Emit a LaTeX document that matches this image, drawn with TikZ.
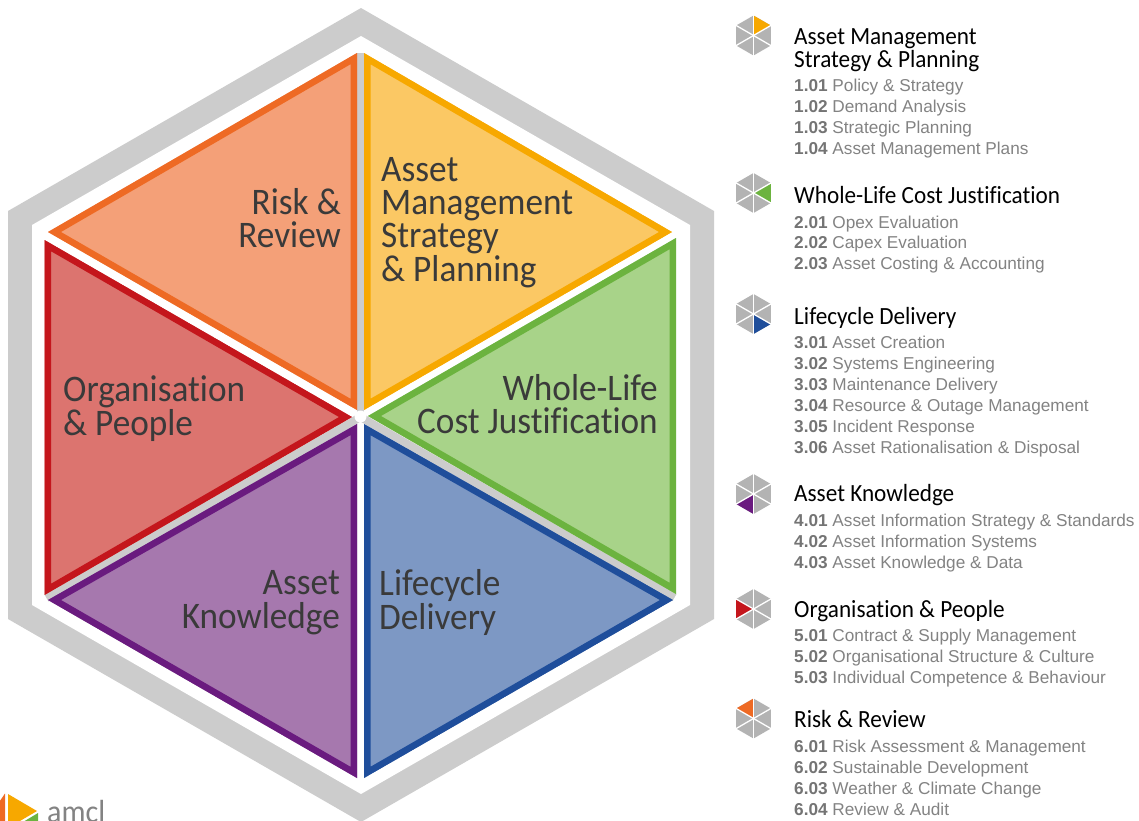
\documentclass[tikz,border=0pt]{standalone}
\usepackage{fontspec}
\setmainfont[FakeStretch=0.94,Ligatures=NoCommon]{Carlito}
\newfontfamily\itemfont{Liberation Sans}
\definecolor{cOr}{HTML}{EE6A24}\definecolor{fOr}{HTML}{F4A078}
\definecolor{cYe}{HTML}{F7A800}\definecolor{fYe}{HTML}{FBC864}
\definecolor{cGr}{HTML}{6CB33F}\definecolor{fGr}{HTML}{A8D389}
\definecolor{cBl}{HTML}{1F4E9B}\definecolor{fBl}{HTML}{7D98C4}
\definecolor{cPu}{HTML}{6A1B7F}\definecolor{fPu}{HTML}{A678AE}
\definecolor{cRe}{HTML}{C4161C}\definecolor{fRe}{HTML}{DC746F}
\definecolor{hexgray}{HTML}{CCCCCC}
\definecolor{icongray}{HTML}{B3B3B3}
\definecolor{itemgray}{HTML}{838383}
\definecolor{numgray}{HTML}{747474}
\definecolor{bigtext}{HTML}{3A3A3A}
\tikzset{
  bigl/.style={anchor=base west,inner sep=0pt,text=bigtext,font=\fontsize{37.5}{37.5}\selectfont},
  bigr/.style={anchor=base east,inner sep=0pt,text=bigtext,font=\fontsize{37.5}{37.5}\selectfont},
  head/.style={anchor=base west,inner sep=0pt,text=black,font=\fontsize{24.7}{24.7}\selectfont},
  item/.style={anchor=base west,inner sep=0pt,text=itemgray,font=\itemfont\fontsize{17.2}{17.2}\selectfont},
}
% triangle with stroke inside: #1-#3 corners, #4 stroke, #5 fill
\newcommand{\sector}[5]{\begin{scope}
  \clip #1 -- #2 -- #3 -- cycle;
  \fill[#5] #1 -- #2 -- #3 -- cycle;
  \draw[#4,line width=13pt,line join=miter] #1 -- #2 -- #3 -- cycle;
\end{scope}}
% icon: #1 y centre, #2 start angle of highlighted wedge (y axis points down), #3 colour
\newcommand{\hexicon}[3]{\begin{scope}[shift={(753.5,#1)}]
  \fill[icongray] (90:20) -- (30:20) -- (-30:20) -- (-90:20) -- (-150:20) -- (150:20) -- cycle;
  \fill[#3] (0,0) -- (#2:20) -- (#2+60:20) -- cycle;
  \foreach \a in {30,90,150} \draw[white,line width=1.3pt] (\a:21) -- (\a+180:21);
\end{scope}}
\newcommand{\itm}[3]{\node[item] (i#1) at (794,#2) {\textcolor{numgray}{\textbf{#1}} #3};}
\begin{document}
\begin{tikzpicture}[x=1pt,y=-1pt]
\useasboundingbox (0,0) rectangle (1139,820);
\fill[white] (0,0) rectangle (1139,820);
% hexagon frame
\fill[hexgray] (361,8) -- (714,211) -- (714,619) -- (361,822) -- (8,619) -- (8,211) -- cycle;
\fill[white] (361,36) -- (690,225) -- (690,605) -- (361,794) -- (32,605) -- (32,225) -- cycle;
% grey spokes
\draw[hexgray,line width=7pt] (360.5,417) -- (360.5,53);
\draw[hexgray,line width=8pt] (360.5,417) -- (46.5,598);
\draw[hexgray,line width=8pt] (360.5,417) -- (674.5,597.5);
\fill[white] (360.5,416.5) circle (6pt);
% sectors
\sector{(357,53)}{(48,232)}{(357,410)}{cOr}{fOr}
\sector{(364,53)}{(672,232)}{(364,410)}{cYe}{fYe}
\sector{(676,238)}{(676,594)}{(368,416)}{cGr}{fGr}
\sector{(364,424)}{(673,600)}{(364,778)}{cBl}{fBl}
\sector{(357,424)}{(48,600)}{(357,778)}{cPu}{fPu}
\sector{(44.5,240)}{(44.5,595)}{(352,417)}{cRe}{fRe}
% big labels
\node[bigl] (a1) at (381,181) {Asset};
\node[bigl] (a2) at (381,214) {Management};
\node[bigl] (a3) at (381,247) {Strategy};
\node[bigl] (a4) at (381,281) {\& Planning};
\node[bigr] (r1) at (341,214) {Risk \&};
\node[bigr] (r2) at (341,247) {Review};
\node[bigr] (w1) at (658,400) {Whole-Life};
\node[bigr] (w2) at (658,433) {Cost Justification};
\node[bigl] (o1) at (63,401) {Organisation};
\node[bigl] (o2) at (63,435) {\& People};
\node[bigr] (k1) at (340,594) {Asset};
\node[bigr] (k2) at (340,628) {Knowledge};
\node[bigl] (l1) at (379,595) {Lifecycle};
\node[bigl] (l2) at (379,629) {Delivery};
% icons
\hexicon{35.5}{-90}{cYe}
\hexicon{193}{-30}{cGr}
\hexicon{314}{30}{cBl}
\hexicon{494}{90}{cPu}
\hexicon{609}{150}{cRe}
\hexicon{718.5}{210}{cOr}
% list
\node[head] (h1a) at (794,44) {Asset Management};
\node[head] (h1b) at (794,67) {Strategy \& Planning};
\itm{1.01}{91}{Policy \& Strategy}
\itm{1.02}{112}{Demand Analysis}
\itm{1.03}{133}{Strategic Planning}
\itm{1.04}{154}{Asset Management Plans}
\node[head] (h2) at (794,203) {Whole-Life Cost Justification};
\itm{2.01}{228}{Opex Evaluation}
\itm{2.02}{248}{Capex Evaluation}
\itm{2.03}{269}{Asset Costing \& Accounting}
\node[head] (h3) at (794,324) {Lifecycle Delivery};
\itm{3.01}{348}{Asset Creation}
\itm{3.02}{369}{Systems Engineering}
\itm{3.03}{390}{Maintenance Delivery}
\itm{3.04}{411}{Resource \& Outage Management}
\itm{3.05}{432}{Incident Response}
\itm{3.06}{453}{Asset Rationalisation \& Disposal}
\node[head] (h4) at (794,501) {Asset Knowledge};
\itm{4.01}{526}{Asset Information Strategy \& Standards}
\itm{4.02}{547}{Asset Information Systems}
\itm{4.03}{568}{Asset Knowledge \& Data}
\node[head] (h5) at (794,617) {Organisation \& People};
\itm{5.01}{641}{Contract \& Supply Management}
\itm{5.02}{662}{Organisational Structure \& Culture}
\itm{5.03}{683}{Individual Competence \& Behaviour}
\node[head] (h6) at (794,727) {Risk \& Review};
\itm{6.01}{752}{Risk Assessment \& Management}
\itm{6.02}{773}{Sustainable Development}
\itm{6.03}{794}{Weather \& Climate Change}
\itm{6.04}{815}{Review \& Audit}
% logo
\fill[cOr] (5,793.5) -- (5,830) -- (-20,830) -- cycle;
\fill[cYe] (8,794) -- (37,811) -- (8,828) -- cycle;
\fill[cGr] (38,813) -- (38,850) -- (8,831) -- cycle;
\node[anchor=base west,inner sep=0pt,text=itemgray,font=\fontsize{32}{32}\selectfont] (logo) at (47,822) {amcl};
\end{tikzpicture}
\end{document}
